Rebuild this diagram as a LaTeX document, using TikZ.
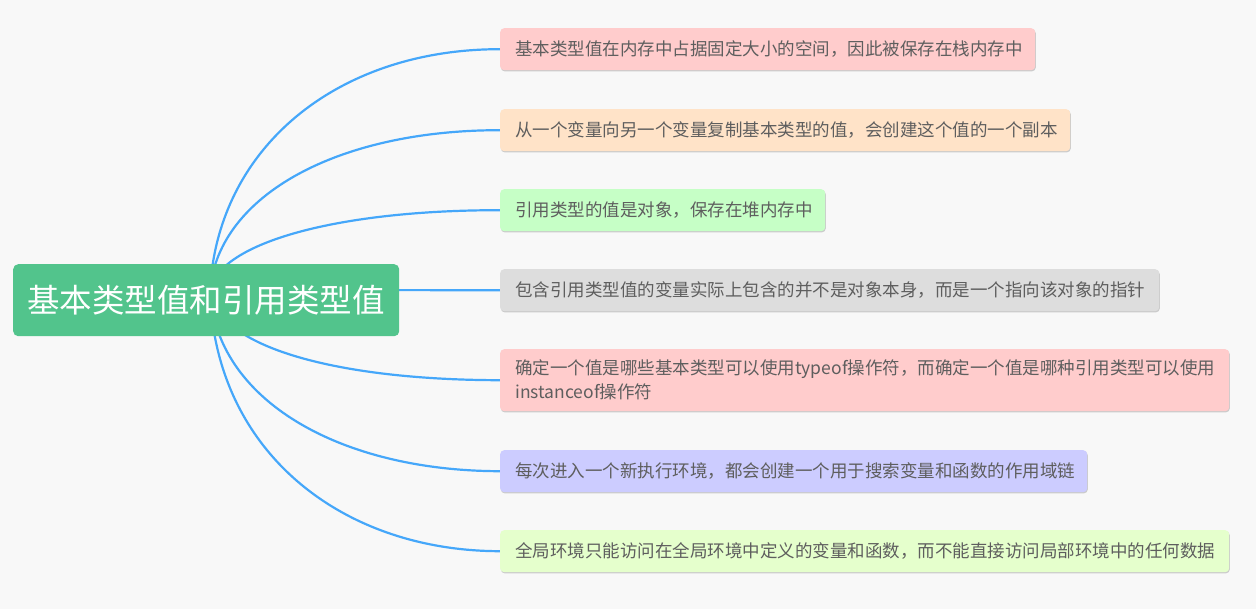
\documentclass[tikz,border=0pt]{standalone}
\usepackage{fontspec}
\setmainfont{Noto Sans CJK SC}
\usetikzlibrary{backgrounds,shadows}
\definecolor{bgc}{HTML}{F8F8F8}
\definecolor{edgec}{HTML}{45A7FA}
\definecolor{rootc}{HTML}{52C48C}
\definecolor{txtc}{HTML}{5E5E5E}
\definecolor{cpink}{HTML}{FFCCCC}
\definecolor{cpeach}{HTML}{FFE3C8}
\definecolor{cgreen}{HTML}{C6FFC6}
\definecolor{cgrey}{HTML}{DDDDDD}
\definecolor{clav}{HTML}{CCCCFF}
\definecolor{clime}{HTML}{E5FFCC}
\begin{document}
\begin{tikzpicture}[x=1pt,y=-1pt,
  rootbox/.style={fill=rootc, rounded corners=5pt, text=white, anchor=north west,
    minimum width=386pt, minimum height=72pt, inner sep=0pt,
    font=\fontsize{32.5}{38}\selectfont},
  leaf/.style={rounded corners=4pt, anchor=north west, inner xsep=15pt, inner ysep=0pt,
    text=txtc, align=left, font=\fontsize{17.5}{24}\selectfont,
    drop shadow={shadow xshift=0.6pt, shadow yshift=-1.2pt, opacity=0.18, fill=black}},
  edgeline/.style={draw=edgec, line width=2.2pt}
]
\useasboundingbox (0,0) rectangle (1256,609);
\node[rootbox] (root) at (13,264) {基本类型值和引用类型值};
\coordinate (hub) at (210,290);
\node[leaf, fill=cpink, text width=505pt, minimum height=42pt] (b1) at (500,28) {基本类型值在内存中占据固定大小的空间，因此被保存在栈内存中};
\node[leaf, fill=cpeach, text width=540pt, minimum height=42pt] (b2) at (500,109) {从一个变量向另一个变量复制基本类型的值，会创建这个值的一个副本};
\node[leaf, fill=cgreen, text width=295pt, minimum height=42pt] (b3) at (500,189) {引用类型的值是对象，保存在堆内存中};
\node[leaf, fill=cgrey, text width=629pt, minimum height=42pt] (b4) at (500,269) {包含引用类型值的变量实际上包含的并不是对象本身，而是一个指向该对象的指针};
\node[leaf, fill=cpink, text width=699pt, minimum height=62pt] (b5) at (500,349) {确定一个值是哪些基本类型可以使用typeof操作符，而确定一个值是哪种引用类型可以使用\\instanceof操作符};
\node[leaf, fill=clav, text width=557pt, minimum height=42pt] (b6) at (500,450) {每次进入一个新执行环境，都会创建一个用于搜索变量和函数的作用域链};
\node[leaf, fill=clime, text width=699pt, minimum height=42pt] (b7) at (500,530) {全局环境只能访问在全局环境中定义的变量和函数，而不能直接访问局部环境中的任何数据};
\begin{pgfonlayer}{background}
\fill[bgc] (0,0) rectangle (1256,609);
\draw[edgeline] (hub) .. controls (218,145) and (340,49) .. (b1.west);
\draw[edgeline] (hub) .. controls (219,194) and (340,130) .. (b2.west);
\draw[edgeline] (hub) .. controls (220,242) and (340,210) .. (b3.west);
\draw[edgeline] (hub) -- (b4.west);
\draw[edgeline] (hub) .. controls (216,348) and (340,380) .. (b5.west);
\draw[edgeline] (hub) .. controls (215,400) and (340,471) .. (b6.west);
\draw[edgeline] (hub) .. controls (214,450) and (340,551) .. (b7.west);
\end{pgfonlayer}
\end{tikzpicture}
\end{document}
